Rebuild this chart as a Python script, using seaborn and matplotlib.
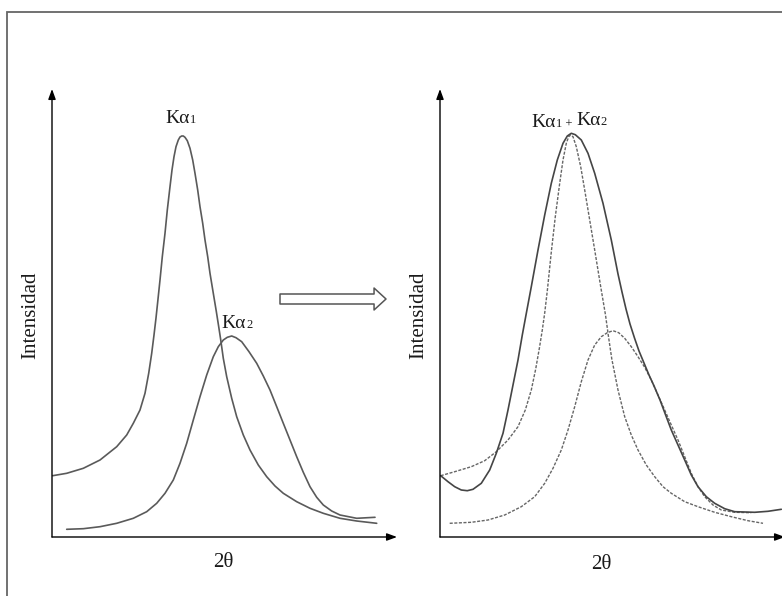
import matplotlib
matplotlib.use("Agg")
import matplotlib.pyplot as plt
from matplotlib.patches import Rectangle, FancyArrowPatch
import seaborn as sns
import pandas as pd

# ---------------- data (arbitrary units) -----------------------------------------
# Left panel: separate K-alpha1 and K-alpha2 peaks
ka1_x = [0.7, 14.7, 31.3, 48, 64.7, 74.7, 81.3, 88, 93, 96.7, 99.7, 102, 104, 105.8,
         108, 110.3, 113, 115.3, 118, 120, 122, 124, 126.3, 128, 129.7, 131.3, 133,
         135.3, 138, 140.7, 143, 145.7, 148, 150.7, 153, 155.7, 158, 161.3, 164.4,
         166.6, 168.6, 171.3, 174.7, 179.7, 184.7, 191.3, 198, 206.3, 214.7, 223, 231.3,
         244.7, 258, 271.3, 288, 304.7, 324.7]
ka1_y = [61.3, 63.7, 68.7, 77, 90.3, 102, 113.7, 127, 143.7, 163.7, 183.7, 202, 219,
         236, 257, 280.3, 303.7, 327, 350.3, 367, 380.3, 390.3, 397, 400, 401, 401,
         399.7, 396.3, 388.7, 377, 363.7, 347, 330.3, 313.7, 297, 280.3, 263.7, 243.7,
         225, 211, 198, 178.7, 160.3, 138.7, 120.3, 102, 87, 72, 60.3, 51, 43.7,
         35.3, 28.7, 23.7, 18.7, 16, 13.7]

ka2_x = [14.7, 31.3, 48, 64.7, 81.3, 94.7, 104.7, 113, 121.3, 128, 134.7, 141.3, 148,
         154.7, 161.3, 166.3, 171.3, 175.3, 179.7, 184, 189.7, 197, 204.7, 211.3, 218,
         224.7, 231.3, 238, 244.7, 251.3, 258, 264.7, 271.3, 279.7, 288, 304.7, 323]
ka2_y = [7.7, 8.3, 10.3, 13.7, 18.7, 25.3, 33.7, 43.7, 57, 73.7, 93.7, 117, 140.3,
         162, 180.3, 190.3, 197, 199.7, 201, 199.3, 195.3, 185.3, 173.7, 161, 147,
         130.3, 113.7, 97, 80.3, 64.7, 50.3, 39.7, 32, 26, 22, 18.7, 19.7]

# Right panel: sum profile (solid) and its two components (dashed)
sum_x = [0.7, 8, 14.7, 21.3, 27.3, 33, 41.3, 49.7, 56.3, 63, 68, 73, 78, 82.3, 86,
         91.3, 98, 104.7, 111.3, 117.3, 123, 127.3, 131.3, 135.3, 141.3, 148, 154.7,
         163, 171.3, 178, 182, 186, 190, 194.5, 199, 204, 209, 214.5, 220, 226, 231.3,
         238, 244.7, 251.3, 258, 266.3, 274.7, 284.7, 294.7, 314.7, 328, 341.3]
sum_y = [61.3, 55.3, 50.3, 47, 46.3, 47.7, 53.7, 67, 83.7, 103.7, 127, 152, 177, 202,
         222, 250.3, 287, 322, 353.7, 377, 393.7, 401, 403.7, 402.3, 397, 383.7, 363.7,
         333.7, 297, 263, 245, 228, 213, 199, 186, 174, 162, 150, 137, 121, 107,
         92, 77, 62, 50.3, 40.3, 33.7, 28.3, 25.3, 24.7, 25.7, 27.7]

c1_x = [0.7, 14.7, 31.3, 44.7, 56.3, 68, 78, 85.3, 91.3, 95.7, 99.4, 102.3, 104.7,
        107.5, 111.3, 115.3, 119.7, 123, 126.3, 128.7, 130.7, 133, 136.3, 140.7, 144.7,
        149.7, 154.7, 160.7, 165.5, 168.5, 171.8, 178, 184.7, 191.3, 198, 206.3, 214.7,
        223, 231.3, 244.7, 258, 274.7, 291.3, 308, 323]
c1_y = [61.3, 65.3, 70.3, 76.3, 85.3, 97, 110.3, 127, 147, 168, 189, 207, 224,
        248, 285, 320.3, 353.7, 377, 393.7, 400.3, 402, 400.3, 390.3, 370.3, 347,
        317, 287, 250.3, 222, 200.3, 178, 147, 120.3, 102, 87, 72, 60.3,
        50.3, 43.7, 35.3, 30.3, 24.7, 20.3, 16.3, 13.7]

c2_x = [9.7, 31.3, 48, 64.7, 81.3, 94.7, 104.7, 113, 121.3, 128, 134.7, 141.3, 148,
        154.7, 161.3, 167.3, 173, 178.7, 184.7, 191.3, 198, 204.7, 211.3, 218, 224.7,
        231.3, 238, 244.7, 251.3, 258, 264.7, 273, 281.3, 294.7, 311.3]
c2_y = [13.7, 14.7, 17, 22, 30.3, 40.3, 53.7, 68.7, 87, 107, 130.3, 155.3, 177,
        192, 200.3, 204.3, 206.3, 204.3, 198.7, 190.3, 180.3, 169.7, 157, 142, 127,
        112, 97, 80.3, 63.7, 50.3, 40.3, 32, 27, 24.7, 24.3]

y_label = "Intensidad"
x_label = "2θ"

# ---------------- figure ---------------------------------------------------------
sns.set_theme(style="white")
plt.rcParams["font.family"] = ["Liberation Serif", "DejaVu Serif"]

W, H = 782, 596
fig = plt.figure(figsize=(W / 100, H / 100), dpi=100)
fig.patch.set_facecolor("white")

# outer frame (extends past the right and bottom edges)
fig.patches.append(Rectangle((7 / W, -0.2), 1.2, (H - 12) / H + 0.2,
                             transform=fig.transFigure, fill=False,
                             edgecolor="#666666", linewidth=1.3, clip_on=False))

axL = fig.add_axes([52 / W, (H - 537) / H, 345 / W, 448 / H])
axR = fig.add_axes([440 / W, (H - 537) / H, 345 / W, 448 / H])

curve_col = "#5a5a5a"
dash = (0, (2.2, 1.1))


def draw(ax, x, y, color, ls="-", lw=1.2):
    df = pd.DataFrame({"x": x, "y": y})
    sns.lineplot(data=df, x="x", y="y", ax=ax, sort=False, estimator=None,
                 color=color, linewidth=lw, linestyle=ls)


draw(axL, ka1_x, ka1_y, curve_col)
draw(axL, ka2_x, ka2_y, curve_col)
draw(axR, c1_x, c1_y, "#666666", ls=dash, lw=1.0)
draw(axR, c2_x, c2_y, "#666666", ls=dash, lw=1.0)
draw(axR, sum_x, sum_y, "#454545")

for ax in (axL, axR):
    ax.set_xlim(0, 345)
    ax.set_ylim(0, 448)
    ax.set_facecolor("none")
    for s in ax.spines.values():
        s.set_visible(False)
    ax.set_xticks([])
    ax.set_yticks([])
    ax.set_xlabel("")
    ax.set_ylabel("")
    for xy in [(0, 1), (1, 0)]:
        ax.annotate("", xy=xy, xytext=(0, 0), xycoords="axes fraction",
                    textcoords="axes fraction", annotation_clip=False,
                    arrowprops=dict(arrowstyle="-|>,head_length=0.6,head_width=0.22",
                                    mutation_scale=10, color="black", lw=1.0,
                                    shrinkA=0, shrinkB=0))

txt_col = "#1a1a1a"
axL.text(-0.062, 0.495, y_label, transform=axL.transAxes, rotation=90,
         ha="center", va="center", fontsize=15, color=txt_col)
axR.text(-0.061, 0.495, y_label, transform=axR.transAxes, rotation=90,
         ha="center", va="center", fontsize=15, color=txt_col)
axL.text(0.496, -0.058, x_label, transform=axL.transAxes,
         ha="center", va="center", fontsize=15, color=txt_col)
axR.text(0.467, -0.062, x_label, transform=axR.transAxes,
         ha="center", va="center", fontsize=15, color=txt_col)


def rich_label(ax, x, y, parts):
    prev = ax.text(x, y, parts[0][0], fontsize=parts[0][1], ha="left",
                   va="baseline", color=txt_col)
    for txt, fs in parts[1:]:
        prev = ax.annotate(txt, xy=(1, 0), xycoords=prev, xytext=(0.3, 0.6),
                           textcoords="offset points", fontsize=fs, ha="left",
                           va="bottom", color=txt_col)
    return prev


rich_label(axL, 113, 414.3, [("Kα", 14), ("1", 9)])
rich_label(axL, 169.7, 208.7, [("Kα", 14), ("2", 9)])
rich_label(axR, 91.3, 410.3, [("Kα", 14), ("1 + ", 9), ("Kα", 14), ("2", 9)])

# hollow block arrow between the panels
fig.patches.append(FancyArrowPatch(
    (280 / W, (H - 299) / H), (386 / W, (H - 299) / H),
    transform=fig.transFigure,
    arrowstyle="simple,head_length=0.86,head_width=1.58,tail_width=0.72",
    mutation_scale=10, facecolor="white", edgecolor="#555555", linewidth=1.1,
    shrinkA=0, shrinkB=0))

fig.savefig("out.png", dpi=100, facecolor="white")
